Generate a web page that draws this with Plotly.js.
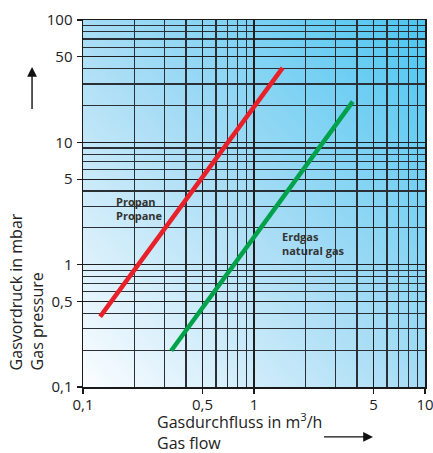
<!DOCTYPE html>
<html><head><meta charset="utf-8">
<script src="https://cdn.plot.ly/plotly-3.0.1.min.js"></script>
<style>html,body{margin:0;padding:0;background:#fff}#c{width:433px;height:453px}</style>
</head><body><div id="c"></div>
<script>
// Data
const propanFlow = [0.126, 1.47];
const propanPressure = [0.376, 40.6];
const erdgasFlow = [0.328, 3.78];
const erdgasPressure = [0.198, 21.5];
const xTickVals = [0.1, 0.5, 1, 5, 10];
const xTickText = ["0,1", "0,5", "1", "5", "10"];
const yTickVals = [0.1, 0.5, 1, 5, 10, 50, 100];
const yTickText = ["0,1", "0,5", "1", "5", "10", "50", "100"];
const xGrid = [0.2,0.3,0.4,0.5,0.6,0.7,0.8,0.9,2,3,4,5,6,7,8,9];
const yGrid = [0.2,0.3,0.4,0.5,0.6,0.7,0.8,0.9,2,3,4,5,6,7,8,9,20,30,40,50,60,70,80,90];

const font = "Open Sans, Noto Sans, sans-serif";
const grad = 'data:image/svg+xml;utf8,' + encodeURIComponent(
 '<svg xmlns="http://www.w3.org/2000/svg" width="100" height="100" preserveAspectRatio="none">' +
 '<defs><linearGradient id="g" x1="0" y1="1" x2="1" y2="0">' +
 '<stop offset="0" stop-color="#fbfdff"/><stop offset="0.5" stop-color="#a6dcf5"/><stop offset="1" stop-color="#4cc6f1"/>' +
 '</linearGradient></defs><rect width="100" height="100" fill="url(#g)"/></svg>');

const traces = [
 {x: propanFlow, y: propanPressure, mode: 'lines', line: {color: '#e8202a', width: 4.5}, hoverinfo: 'skip'},
 {x: erdgasFlow, y: erdgasPressure, mode: 'lines', line: {color: '#00a14b', width: 4.5}, hoverinfo: 'skip'}
];

const axisCommon = {
 type: 'log', showline: true, linecolor: '#1a1a1a', linewidth: 1.5, mirror: true,
 ticks: 'outside', ticklen: 5, tickcolor: '#1a1a1a', tickwidth: 1.2,
 tickfont: {family: font, size: 15, color: '#222'}, ticklabeloverflow: 'allow',
 showgrid: true, gridcolor: '#1e1e1e', gridwidth: 1.3, zeroline: false, tickmode: 'array'
};

const layout = {
 width: 433, height: 453,
 margin: {l: 83, r: 8, t: 20, b: 66},
 paper_bgcolor: '#ffffff', plot_bgcolor: 'rgba(0,0,0,0)',
 showlegend: false,
 xaxis: Object.assign({}, axisCommon, {
  range: [-1, 1], tickvals: xTickVals, ticktext: xTickText, ticklabelstandoff: -2,
  minor: {tickmode: 'array', tickvals: xGrid, showgrid: true, gridcolor: '#2a2f35', gridwidth: 1.2, ticks: ''}
 }),
 yaxis: Object.assign({}, axisCommon, {
  range: [-1, 2], tickvals: yTickVals, ticktext: yTickText, ticklabelstandoff: 1,
  minor: {tickmode: 'array', tickvals: yGrid, showgrid: true, gridcolor: '#2a2f35', gridwidth: 1.2, ticks: ''}
 }),
 images: [{source: grad, xref: 'paper', yref: 'paper', x: 0, y: 1, sizex: 1, sizey: 1,
  sizing: 'stretch', layer: 'below', xanchor: 'left', yanchor: 'top'}],
 annotations: [
  {text: '<b>Propan</b><br><b>Propane</b>', xref: 'paper', yref: 'paper', x: 0.09, y: 0.487, xanchor: 'left', yanchor: 'middle', align: 'left', showarrow: false, font: {family: font, size: 11, color: '#333'}},
  {text: '<b>Erdgas</b><br><b>natural gas</b>', xref: 'paper', yref: 'paper', x: 0.575, y: 0.39, xanchor: 'left', yanchor: 'middle', align: 'left', showarrow: false, font: {family: font, size: 11, color: '#333'}},
  {text: 'Gasdurchfluss in m<sup>3</sup>/h<br>Gas flow', xref: 'paper', yref: 'paper', x: 0.21, y: -0.12, xanchor: 'left', yanchor: 'middle', align: 'left', showarrow: false, font: {family: font, size: 16, color: '#222'}},
  {text: 'Gasvordruck in mbar<br>Gas pressure', xref: 'paper', yref: 'paper', x: -0.165, y: 0.04, xanchor: 'center', yanchor: 'bottom', align: 'left', textangle: -90, showarrow: false, font: {family: font, size: 16, color: '#222'}},
  {text: ' ', xref: 'paper', yref: 'paper', x: -0.149, y: 0.872, ax: 0, ay: 52, showarrow: true, arrowhead: 2, arrowsize: 1.4, arrowwidth: 1.4, arrowcolor: '#111'},
  {text: ' ', xref: 'paper', yref: 'paper', x: 0.848, y: -0.136, ax: -52, ay: 0, showarrow: true, arrowhead: 2, arrowsize: 1.4, arrowwidth: 1.4, arrowcolor: '#111'}
]
};
Plotly.newPlot('c', traces, layout, {staticPlot: true, displayModeBar: false});
</script></body></html>
